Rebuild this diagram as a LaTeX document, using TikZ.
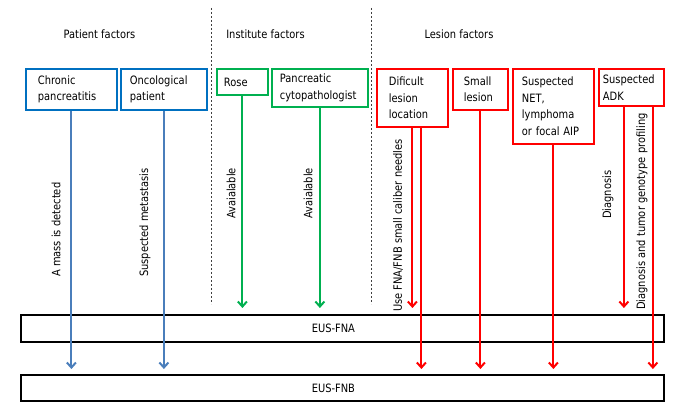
\documentclass[tikz,border=0pt]{standalone}
\usepackage{fontspec}
\setmainfont{DejaVu Sans}[FakeStretch=0.86]
\usetikzlibrary{arrows.meta}
\definecolor{bbox}{HTML}{0070C0}
\definecolor{barr}{HTML}{4A7EBB}
\definecolor{gbox}{HTML}{00B050}
\definecolor{rbox}{HTML}{FF0000}
\definecolor{sepc}{HTML}{404040}
\begin{document}
\begin{tikzpicture}[x=1pt,y=-1pt,
  font=\fontsize{11.5}{16.5}\selectfont,
  fbox/.style={draw, line width=1.8pt, anchor=north west, align=left, inner ysep=0pt},
  bar/.style={draw, line width=1.8pt, anchor=north west, minimum width=643pt, inner sep=0pt},
  arr/.style={line width=2pt, -{Straight Barb[length=5pt,width=9pt]}},
  lab/.style={rotate=90, anchor=west, inner sep=0pt},
  ttl/.style={inner sep=0pt},
  sep/.style={sepc, line width=1pt, dash pattern=on 2pt off 2pt}
]
\useasboundingbox (0,0) rectangle (673,417);

% titles
\node[ttl] (tp) at (99.5,34) {Patient factors};
\node[ttl] (ti) at (265.5,34) {Institute factors};
\node[ttl] (tl) at (459,34) {Lesion factors};

% separators
\coordinate (s1t) at (211,8);
\coordinate (s1b) at (211,304);
\coordinate (s2t) at (371,8);
\coordinate (s2b) at (371,304);
\draw[sep] (s1t) -- (s1b);
\draw[sep] (s2t) -- (s2b);

% factor boxes
\node[fbox, draw=bbox, minimum height=41pt, inner xsep=12pt, text width=67pt] (cp) at (25,68) {Chronic\\pancreatitis};
\node[fbox, draw=bbox, minimum height=41pt, inner xsep=9pt, text width=68pt] (op) at (120,68) {Oncological\\patient};
\node[fbox, draw=gbox, minimum height=26pt, inner xsep=7pt, text width=37pt] (ro) at (216,68) {Rose};
\node[fbox, draw=gbox, minimum height=38pt, inner xsep=8pt, text width=80pt] (pc) at (271,68) {Pancreatic\\cytopathologist};
\node[fbox, draw=rbox, minimum height=58pt, inner xsep=12pt, text width=47pt] (dl) at (376,68) {Dificult\\lesion\\location};
\node[fbox, draw=rbox, minimum height=41pt, inner xsep=11pt, text width=33pt] (sl) at (452,68) {Small\\lesion};
\node[fbox, draw=rbox, minimum height=75pt, inner xsep=9pt, text width=63pt] (nt) at (512,68) {Suspected\\NET,\\lymphoma\\or focal AIP};
\node[fbox, draw=rbox, minimum height=37pt, inner xsep=4pt, text width=57pt] (ad) at (598,68) {Suspected\\ADK};

% bars
\node[bar, minimum height=27pt] (fna) at (20,314) {EUS-FNA\hspace*{18pt}};
\node[bar, minimum height=26pt] (fnb) at (20,374) {EUS-FNB\hspace*{18pt}};

% offset start points
\coordinate (dl2) at ([xshift=9pt]dl.south);
\coordinate (ad1) at ([xshift=-7.5pt]ad.south);
\coordinate (ad2) at ([xshift=21.5pt]ad.south);

% arrows
\draw[arr, barr, shorten >=5pt] (cp.south) -- (cp.south |- fnb.north);
\draw[arr, barr, shorten >=5pt] (op.south) -- (op.south |- fnb.north);
\draw[arr, gbox, shorten >=6pt] (ro.south) -- (ro.south |- fna.north);
\draw[arr, gbox, shorten >=6pt] (pc.south) -- (pc.south |- fna.north);
\draw[arr, rbox, shorten >=6pt] (dl.south) -- (dl.south |- fna.north);
\draw[arr, rbox, shorten >=5pt] (dl2) -- (dl2 |- fnb.north);
\draw[arr, rbox, shorten >=5pt] (sl.south) -- (sl.south |- fnb.north);
\draw[arr, rbox, shorten >=5pt] (nt.south) -- (nt.south |- fnb.north);
\draw[arr, rbox, shorten >=6pt] (ad1) -- (ad1 |- fna.north);
\draw[arr, rbox, shorten >=5pt] (ad2) -- (ad2 |- fnb.north);

% arrow labels
\node[lab] (l1) at (56,277) {A mass is detected};
\node[lab] (l2) at (145,277) {Suspected metastasis};
\node[lab] (l3) at (231,219) {Avaialable};
\node[lab] (l4) at (308,219) {Avaialable};
\node[lab] (l5) at (398,312) {Use FNA/FNB small caliber needles};
\node[lab] (l6) at (608,219) {Diagnosis};
\node[lab] (l7) at (642,310) {Diagnosis and tumor genotype profiling};
\end{tikzpicture}
\end{document}
